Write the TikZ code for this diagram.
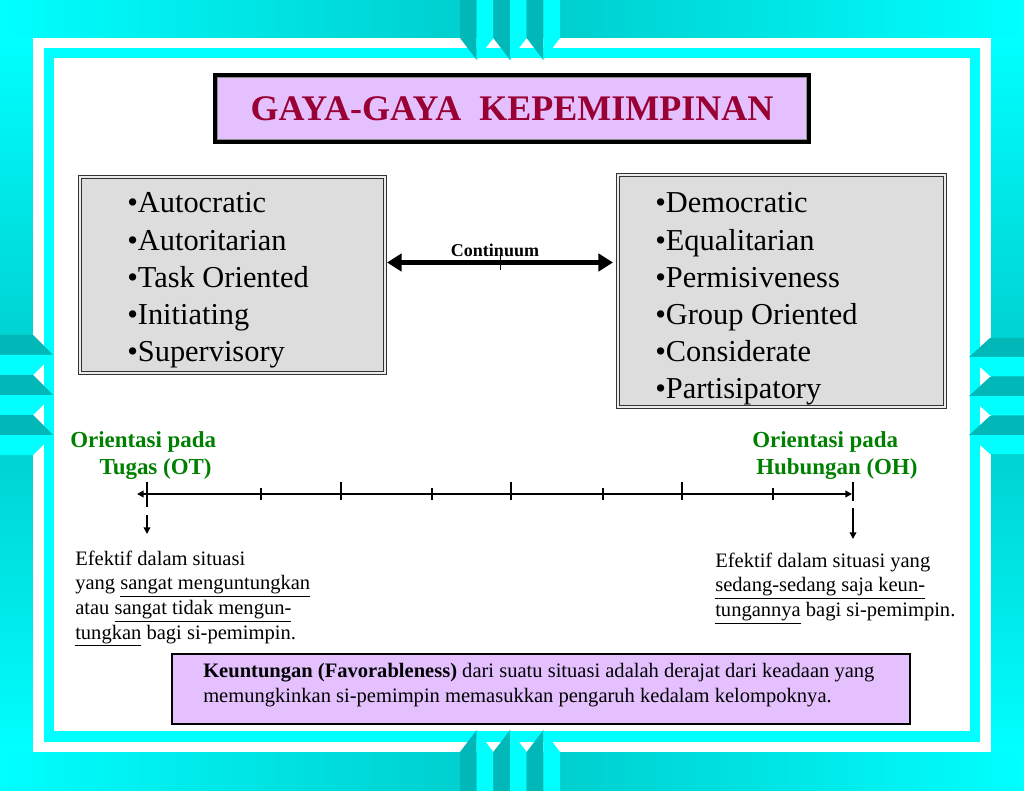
\documentclass[tikz,border=0pt]{standalone}
\usepackage{fontspec}
\setmainfont{Liberation Serif}
\usetikzlibrary{arrows.meta,calc}
\definecolor{cyanb}{RGB}{0,255,255}
\definecolor{tealm}{RGB}{0,202,202}
\definecolor{stripe}{RGB}{0,184,184}
\definecolor{lav}{RGB}{228,192,255}
\definecolor{crim}{RGB}{153,0,51}
\definecolor{boxgray}{RGB}{221,221,221}
\definecolor{grn}{RGB}{0,128,0}
\newcommand{\txtlines}[1]{\begin{tabular}[t]{@{}l@{}}#1\end{tabular}}
\tikzset{
  titlebox/.style={draw=black, line width=2.6pt, fill=lav, minimum width=445.5pt, minimum height=50.25pt, inner sep=0pt,
    font=\bfseries\fontsize{27}{32}\selectfont, text=crim},
  listbox/.style={draw=black!80, double=boxgray!60!white, double distance=1.6pt, line width=0.6pt, fill=boxgray, inner sep=0pt},
  listtext/.style={inner sep=0pt, anchor=base west, font=\fontsize{22.8}{27.9}\selectfont},
  greenlbl/.style={inner sep=0pt, anchor=base west, text=grn, font=\bfseries\fontsize{17.2}{20.25}\selectfont},
  smalltext/.style={inner sep=0pt, anchor=base west, font=\fontsize{15.4}{18.6}\selectfont},
  notetext/.style={inner sep=0pt, anchor=base west, font=\fontsize{15.4}{18.8}\selectfont},
  notebox/.style={draw=black, line width=1pt, fill=lav, inner sep=0pt, minimum width=553.5pt, minimum height=52.5pt},
  contarrow/.style={line width=3.4pt, {Triangle[length=11pt,width=13pt]}-{Triangle[length=11pt,width=13pt]}},
  axisline/.style={line width=1.5pt, {Triangle[length=5pt,width=5pt]}-{Triangle[length=5pt,width=5pt]}},
  tickmark/.style={line width=0.8pt},
  bigtick/.style={line width=2.2pt},
  downarrow/.style={line width=1pt, -{Triangle[length=5pt,width=5pt]}}
}
\begin{document}
\begin{tikzpicture}[x=0.75pt,y=-0.75pt]
\useasboundingbox (0,0) rectangle (1024,791);
% background bands
\fill[cyanb] (0,0) rectangle (1024,791);
\shade[left color=cyanb, right color=cyanb, middle color=tealm] (0,0) rectangle (1024,38);
\shade[left color=cyanb, right color=cyanb, middle color=tealm] (0,752) rectangle (1024,791);
\shade[top color=cyanb, bottom color=cyanb, middle color=tealm] (0,38) rectangle (33,752);
\shade[top color=cyanb, bottom color=cyanb, middle color=tealm] (991,38) rectangle (1024,752);
% frames
\fill[white] (33,38) rectangle (991,752);
\fill[cyanb] (44,48) rectangle (980,742);
\fill[white] (54,58) rectangle (970,731);
% top and bottom chevrons
\foreach \x in {460,493.33,526.67}{
  \fill[stripe] (\x,0) -- (\x+16.67,0) -- (\x+16.67,60) -- (\x,38) -- cycle;
  \fill[cyanb] (\x+16.67,0) -- (\x+33.33,0) -- (\x+33.33,38) -- (\x+16.67,60) -- cycle;
  \fill[stripe] (\x,791) -- (\x+16.67,791) -- (\x+16.67,730) -- (\x,752) -- cycle;
  \fill[cyanb] (\x+16.67,791) -- (\x+33.33,791) -- (\x+33.33,752) -- (\x+16.67,730) -- cycle;
}
% side chevrons
\foreach \y in {335,375,415}{
  \fill[stripe] (0,\y) -- (33,\y) -- (53,\y+20) -- (0,\y+20) -- cycle;
  \fill[cyanb] (0,\y+20) -- (53,\y+20) -- (33,\y+40) -- (0,\y+40) -- cycle;
}
\foreach \y in {338,377,416}{
  \fill[stripe] (1024,\y) -- (990,\y) -- (969,\y+19) -- (1024,\y+19) -- cycle;
  \fill[cyanb] (1024,\y+19) -- (969,\y+19) -- (990,\y+38) -- (1024,\y+38) -- cycle;
}
% title
\node[titlebox] (title) at (512,108.5) {GAYA-GAYA\ \ KEPEMIMPINAN};
\draw[black!45, line width=0.6pt] ($(title.north west)+(4,4)$) rectangle ($(title.south east)+(-4,-4)$);
% list boxes
\node[listbox, minimum width=228.75pt, minimum height=147pt] (lbox) at (232.5,275) {};
\node[listbox, minimum width=245.25pt, minimum height=174pt] (rbox) at (781.5,291) {};
\node[listtext] (ltext) at (127,213) {\txtlines{•Autocratic\\•Autoritarian\\•Task Oriented\\•Initiating\\•Supervisory}};
\node[listtext] (rtext) at (655,213) {\txtlines{•Democratic\\•Equalitarian\\•Permisiveness\\•Group Oriented\\•Considerate\\•Partisipatory}};
% continuum
\coordinate (ca) at (387,262.5);
\coordinate (cb) at (613,262.5);
\draw[contarrow] (ca) -- (cb);
\node[inner sep=0pt, anchor=base, font=\bfseries\fontsize{13.5}{16}\selectfont] (cont) at (495,257) {Continuum};
\draw[line width=0.6pt] (500,255) -- (500,270);
% orientation labels
\node[greenlbl] (ot) at (70,447) {\txtlines{Orientasi pada\\\hspace*{22pt}Tugas (OT)}};
\node[greenlbl] (oh) at (752,447) {\txtlines{Orientasi pada\\\hspace*{3pt}Hubungan (OH)}};
% axis
\coordinate (axL) at (137,494);
\coordinate (axR) at (852,494);
\draw[axisline] (axL) -- (axR);
\foreach \x in {261,432,603,773} \draw[tickmark] (\x,488) -- (\x,500);
\foreach \x in {341,511,682} \draw[tickmark] (\x,482) -- (\x,500);
\coordinate (otT) at (147,482);
\coordinate (otB) at (147,507);
\coordinate (ohT) at (853,482);
\coordinate (ohB) at (853,501);
\draw[bigtick] (otT) -- (otB);
\draw[bigtick] (ohT) -- (ohB);
\coordinate (otd1) at (147,515);
\coordinate (otd2) at (147,534);
\coordinate (ohd1) at (853,508);
\coordinate (ohd2) at (853,539);
\draw[downarrow] (otd1) -- (otd2);
\draw[downarrow] (ohd1) -- (ohd2);
% effect texts
\node[smalltext] (leff) at (75,565) {\txtlines{Efektif dalam situasi\\yang \underline{sangat menguntungkan}\\atau \underline{sangat tidak mengun-}\\\underline{tungkan} bagi si-pemimpin.}};
\node[smalltext] (reff) at (715,567) {\txtlines{Efektif dalam situasi yang\\\underline{sedang-sedang saja keun-}\\\underline{tungannya} bagi si-pemimpin.}};
% note box
\node[notebox] (note) at (541,689) {};
\node[notetext] (notet) at (203,677) {\txtlines{\textbf{Keuntungan (Favorableness)} dari suatu situasi adalah derajat dari keadaan yang\\memungkinkan si-pemimpin memasukkan pengaruh kedalam kelompoknya.}};
\end{tikzpicture}
\end{document}
